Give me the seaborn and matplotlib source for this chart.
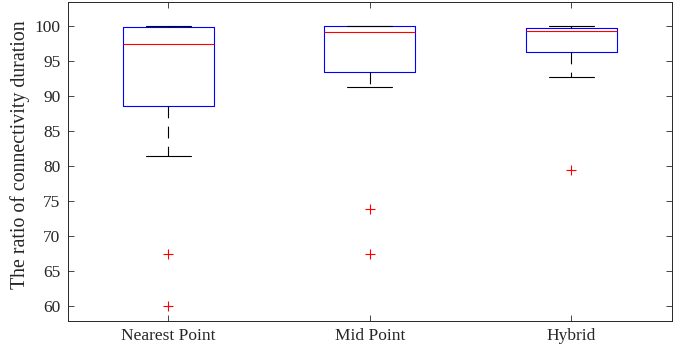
import numpy as np
import pandas as pd
import matplotlib
matplotlib.use("Agg")
import matplotlib.pyplot as plt
import seaborn as sns

# groups shown on the x axis
methods = ["Nearest Point", "Mid Point", "Hybrid"]

# per-group samples (outliers, whisker ends, quartiles, median)
nearest_point = [60.0, 67.5, 81.4, 88.6, 88.6, 88.6, 97.4, 99.9, 99.9, 99.9, 100.0, 100.0, 100.0]
mid_point = [67.5, 73.9, 91.3, 93.4, 93.4, 93.4, 99.1, 100.0, 100.0, 100.0, 100.0, 100.0, 100.0]
hybrid = [79.5, 92.7, 96.3, 96.3, 96.3, 96.3, 99.3, 99.7, 99.7, 99.7, 100.0, 100.0, 100.0]

y_ticks = [60, 65, 70, 75, 80, 85, 90, 95, 100]

df = pd.DataFrame({
    "method": np.repeat(methods, [len(nearest_point), len(mid_point), len(hybrid)]),
    "ratio": nearest_point + mid_point + hybrid,
})

sns.set_style("white")
plt.rcParams["font.family"] = ["Liberation Serif", "DejaVu Serif"]
plt.rcParams["lines.scale_dashes"] = False

fig = plt.figure(figsize=(6.94, 3.58), dpi=100)
ax = fig.add_axes([67.5 / 694, 1 - 321 / 358, (672 - 67.5) / 694, (321 - 2) / 358])

sns.boxplot(
    data=df, x="method", y="ratio", order=methods, ax=ax,
    width=0.45, fill=False, linewidth=0.8, whis=1.5,
    boxprops=dict(color="blue", linewidth=0.8),
    medianprops=dict(color="red", linewidth=0.8),
    whiskerprops=dict(color="black", linewidth=0.8, linestyle=(0, (8.5, 6))),
    capprops=dict(color="black", linewidth=0.8),
    flierprops=dict(marker="+", markeredgecolor="red", markerfacecolor="none",
                    markersize=7, markeredgewidth=0.8, linestyle="none"),
)

ax.set_xlim(-0.5, 2.5)
ax.set_ylim(57.9, 103.4)
ax.set_yticks(y_ticks)
ax.set_xlabel("")
ax.set_ylabel("The ratio of connectivity duration", fontsize=14.3, color="#262626")
ax.yaxis.set_label_coords(-0.062, 0.522)
ax.tick_params(direction="in", length=4, width=0.6, colors="#262626",
               labelsize=12.5, top=True, right=True, bottom=True, left=True, pad=5)
for s in ax.spines.values():
    s.set_visible(True)
    s.set_color("#262626")
    s.set_linewidth(0.7)

fig.savefig("out.png", dpi=100)
